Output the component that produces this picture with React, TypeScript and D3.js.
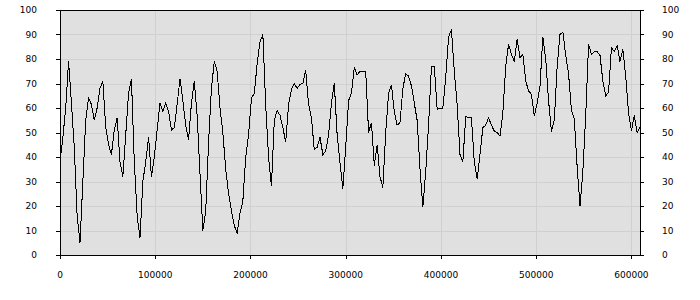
import React from "react";
import * as d3 from "d3";

const X_STEP = 3000;
const X_MAX = 609000;
const seriesValues: number[] = [
  38, 48, 60, 79, 62, 44, 16, 5, 30, 55,
  64, 61.5, 55, 60, 68, 71, 52, 45, 41, 51,
  56, 38, 32, 49, 66, 72, 38, 16, 7, 30,
  38, 48, 32, 40, 51, 62, 58.7, 62, 58.7, 51,
  52, 61.5, 72, 63, 53, 47, 62, 71, 57, 33,
  10, 18, 46, 68, 79, 75, 60, 50, 35, 25,
  18, 12, 9, 17, 22, 40, 49, 64, 66, 78,
  87, 90, 61, 40, 28, 55, 59, 57, 52, 46,
  61.5, 67.5, 70, 68, 69.7, 70, 75.5, 61.5, 56, 43,
  44, 48, 41, 42.5, 49, 62, 70, 49, 37.7, 27,
  44, 63, 66, 76.5, 73.5, 75, 75, 75, 50, 54,
  36.5, 45, 32, 27.5, 50, 66, 69.5, 58.5, 53, 54,
  68, 74, 73, 69, 62, 55, 35, 19.5, 34, 53,
  77, 77, 59.5, 60, 60, 72.4, 89, 92, 75, 61.5,
  41, 38, 56.5, 56, 56, 38, 31, 41, 52, 53,
  56, 53, 50.6, 50, 48.5, 58, 77, 86, 82, 79,
  88, 80.5, 82, 71, 67, 65.6, 56.7, 62, 69, 89,
  80, 63, 50.3, 55, 77, 90, 91, 81.5, 74, 59,
  55.5, 36, 20, 34, 57, 86, 82, 83, 83, 81.5,
  71, 65, 66.5, 84.6, 83, 85.5, 79, 84, 73, 58,
  50.6, 57, 50, 52,
];
const xTicks = [0, 100000, 200000, 300000, 400000, 500000, 600000];
const yTicks = [0, 10, 20, 30, 40, 50, 60, 70, 80, 90, 100];

export default function App() {
  const W = 700, H = 300;
  const left = 60, right = 640, top = 10, bottom = 255;
  const x = d3.scaleLinear().domain([0, X_MAX]).range([left, right]);
  const y = d3.scaleLinear().domain([0, 100]).range([bottom, top]);
  const data = seriesValues.map((v, i) => [i * X_STEP, v] as [number, number]);
  const line = d3
    .line<[number, number]>()
    .x((d) => x(d[0]))
    .y((d) => y(d[1]));
  const font = "'DejaVu Sans', Verdana, sans-serif";
  return (
    <svg
      width={W}
      height={H}
      style={{ position: "absolute", left: 0, top: 0, background: "#fff" }}
    >
      <rect x={left} y={top} width={right - left} height={bottom - top} fill="#e0e0e0" />
      {yTicks.map((t) => (
        <line key={"gy" + t} x1={left} x2={right} y1={Math.round(y(t)) + 0.5} y2={Math.round(y(t)) + 0.5} stroke="#d0d0d0" strokeWidth={1} />
      ))}
      {xTicks.map((t) => (
        <line key={"gx" + t} x1={Math.round(x(t)) + 0.5} x2={Math.round(x(t)) + 0.5} y1={top} y2={bottom} stroke="#d0d0d0" strokeWidth={1} />
      ))}
      <path d={line(data) || ""} fill="none" stroke="#000" strokeWidth={1} shapeRendering="crispEdges" />
      <rect x={left + 0.5} y={top + 0.5} width={right - left} height={bottom - top} fill="none" stroke="#000" strokeWidth={1} />
      {yTicks.map((t) => (
        <g key={"ty" + t}>
          <line x1={left - 4} x2={left} y1={Math.round(y(t)) + 0.5} y2={Math.round(y(t)) + 0.5} stroke="#000" />
          <line x1={right} x2={right + 4} y1={Math.round(y(t)) + 0.5} y2={Math.round(y(t)) + 0.5} stroke="#000" />
          <text x={37} y={y(t)} dy="0.35em" textAnchor="end" fontFamily={font} fontSize={9} fill="#000">
            {t}
          </text>
          <text x={662} y={y(t)} dy="0.35em" textAnchor="start" fontFamily={font} fontSize={9} fill="#000">
            {t}
          </text>
        </g>
      ))}
      {xTicks.map((t) => (
        <g key={"tx" + t}>
          <line x1={Math.round(x(t)) + 0.5} x2={Math.round(x(t)) + 0.5} y1={bottom} y2={bottom + 4} stroke="#000" />
          <text x={x(t)} y={275} dy="0.35em" textAnchor="middle" fontFamily={font} fontSize={9} fill="#000">
            {t}
          </text>
        </g>
      ))}
    </svg>
  );
}
